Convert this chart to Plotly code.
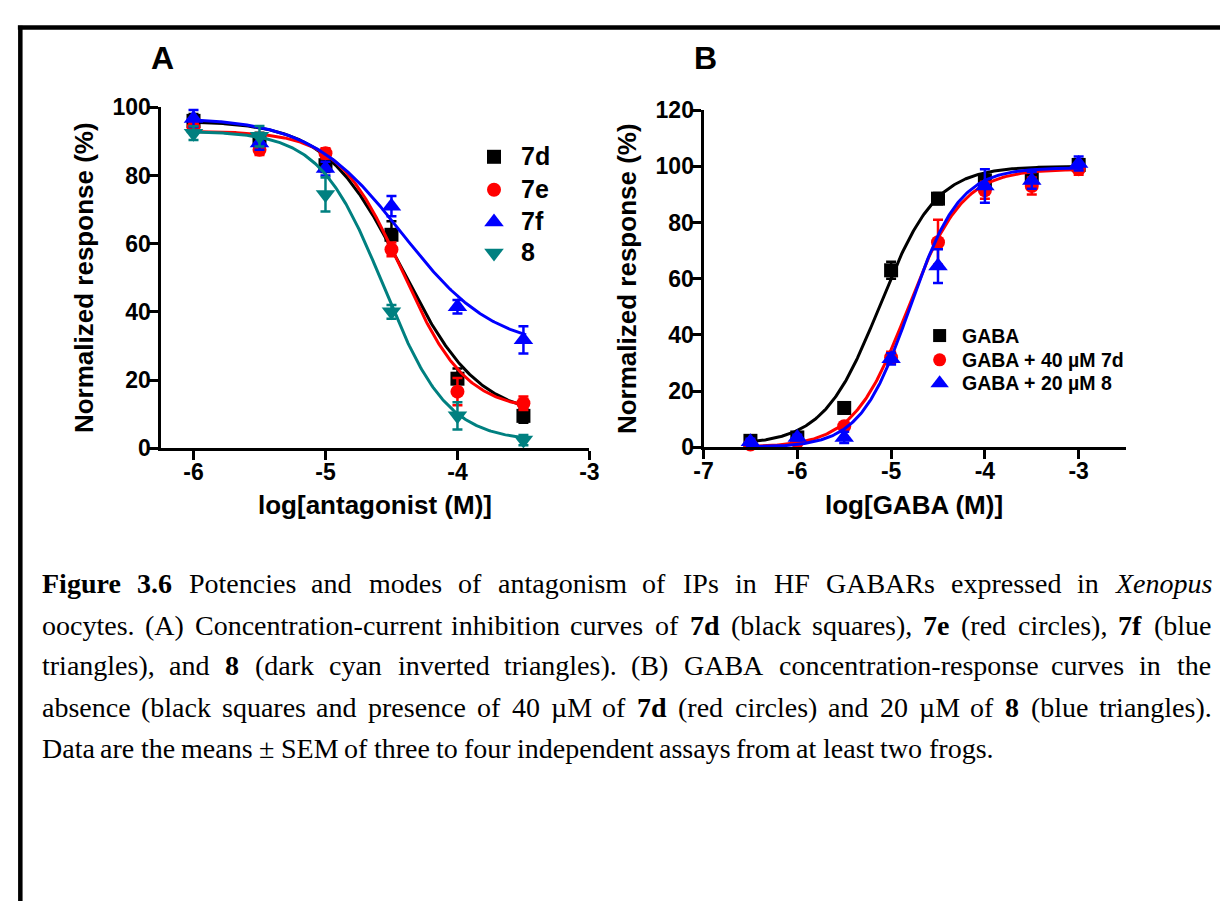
import numpy as np
import plotly.graph_objects as go

W, H = 1230, 914

# ---------------- Panel A: antagonist inhibition ----------------
log_antagonist = [-6.0, -5.5, -5.0, -4.5, -4.0, -3.5]
resp_7d = [96.0, 90.5, 83.0, 62.6, 20.4, 9.5]
resp_7e = [94.0, 87.5, 86.5, 58.3, 16.6, 13.2]
resp_7f = [96.7, 89.5, 82.0, 71.0, 41.5, 31.8]
resp_8 = [92.4, 91.5, 74.4, 40.0, 9.5, 2.4]
sem_7d = [2.0, 2.0, 2.0, 4.0, 3.0, 2.0]
sem_7e = [1.5, 1.5, 1.5, 2.0, 4.0, 2.0]
sem_7f = [2.5, 2.0, 2.0, 3.0, 2.0, 4.0]
sem_8 = [2.0, 3.0, 5.0, 2.0, 4.0, 1.5]

# Hill fits for inhibition: (top, bottom, logIC50, hill slope)
fit_7d = (96.0, 9.0, -4.42, 1.5)
fit_7e = (93.0, 11.0, -4.42, 1.8)
fit_7f = (97.0, 29.0, -4.42, 1.25)
fit_8 = (93.0, 2.0, -4.56, 1.8)

# ---------------- Panel B: GABA concentration-response ----------------
log_gaba = [-6.5, -6.0, -5.5, -5.0, -4.5, -4.0, -3.5, -3.0]
resp_gaba = [2.3, 3.5, 14.0, 63.0, 88.5, 95.0, 96.0, 100.5]
resp_gaba_7d = [1.0, 2.0, 7.5, 32.0, 73.0, 91.5, 93.0, 99.0]
resp_gaba_8 = [2.0, 3.5, 3.5, 31.5, 64.5, 93.0, 95.0, 101.0]
sem_gaba = [1.0, 1.0, 2.0, 3.0, 2.0, 2.0, 2.0, 1.5]
sem_gaba_7d = [0.5, 0.5, 1.0, 2.0, 8.0, 3.0, 3.0, 2.0]
sem_gaba_8 = [1.0, 1.0, 2.0, 2.0, 6.0, 6.0, 3.0, 2.5]

# Hill fits for activation: (top, bottom, logEC50, hill slope)
fit_gaba = (100.0, 1.0, -5.12, 1.45)
fit_gaba_7d = (99.0, 0.0, -4.82, 1.5)
fit_gaba_8 = (99.5, 0.0, -4.80, 1.65)

names_a = ["7d", "7e", "7f", "8"]
names_b = ["GABA", "GABA + 40 µM 7d", "GABA + 20 µM 8"]

BLACK, RED, BLUE, TEAL = "#000000", "#ff0000", "#0000ff", "#008080"
SANS = "Liberation Sans, Arial, sans-serif"
SERIF = "Liberation Serif, Times New Roman, serif"


def inhibition(x, p):
    top, bottom, c, h = p
    return bottom + (top - bottom) / (1.0 + 10.0 ** ((x - c) * h))


def activation(x, p):
    top, bottom, c, h = p
    return bottom + (top - bottom) / (1.0 + 10.0 ** ((c - x) * h))


def px(x):
    """Pixel from left -> paper x."""
    return x / W


def py(y):
    """Pixel from top -> paper y."""
    return 1.0 - y / H


fig = go.Figure()

series_a = [
    (resp_7d, sem_7d, fit_7d, BLACK, "square", 14),
    (resp_7e, sem_7e, fit_7e, RED, "circle", 14),
    (resp_7f, sem_7f, fit_7f, BLUE, "triangle-up", 17),
    (resp_8, sem_8, fit_8, TEAL, "triangle-down", 17),
]
xa = np.linspace(-6.05, -3.48, 300)
for resp, sem, fit, col, sym, size in series_a:
    fig.add_trace(go.Scatter(
        x=log_antagonist, y=resp, mode="markers", xaxis="x", yaxis="y",
        marker=dict(symbol=sym, size=size, color=col),
        error_y=dict(type="data", array=sem, color=col, thickness=2.5, width=5),
        cliponaxis=False, showlegend=False))
    fig.add_trace(go.Scatter(
        x=xa, y=inhibition(xa, fit), mode="lines", xaxis="x", yaxis="y",
        line=dict(color=col, width=3), cliponaxis=False, showlegend=False))

series_b = [
    (resp_gaba, sem_gaba, fit_gaba, BLACK, "square", 14),
    (resp_gaba_7d, sem_gaba_7d, fit_gaba_7d, RED, "circle", 14),
    (resp_gaba_8, sem_gaba_8, fit_gaba_8, BLUE, "triangle-up", 17),
]
xb = np.linspace(-6.55, -2.95, 300)
for resp, sem, fit, col, sym, size in series_b:
    fig.add_trace(go.Scatter(
        x=log_gaba, y=resp, mode="markers", xaxis="x2", yaxis="y2",
        marker=dict(symbol=sym, size=size, color=col),
        error_y=dict(type="data", array=sem, color=col, thickness=2.5, width=5),
        cliponaxis=False, showlegend=False))
    fig.add_trace(go.Scatter(
        x=xb, y=activation(xb, fit), mode="lines", xaxis="x2", yaxis="y2",
        line=dict(color=col, width=3), cliponaxis=False, showlegend=False))

# ---------------- hand-drawn legends on a full-page pixel overlay ----------------
annotations = []
leg_a_rows = [148, 182, 215, 247]
for (resp, sem, fit, col, sym, size), name, ry in zip(series_a, names_a, leg_a_rows):
    fig.add_trace(go.Scatter(
        x=[492], y=[ry], mode="markers", xaxis="x3", yaxis="y3",
        marker=dict(symbol=sym, size=size, color=col), showlegend=False,
        cliponaxis=False, hoverinfo="skip"))
    annotations.append(dict(x=px(517), y=py(ry - 1), xref="paper", yref="paper",
                            text=f"<b>{name}</b>", showarrow=False,
                            xanchor="left", yanchor="middle",
                            font=dict(family=SANS, size=25, color="black")))

leg_b_rows = [332, 357, 381]
for (resp, sem, fit, col, sym, size), name, ry in zip(series_b, names_b, leg_b_rows):
    fig.add_trace(go.Scatter(
        x=[945], y=[ry], mode="markers", xaxis="x3", yaxis="y3",
        marker=dict(symbol=sym, size=size - 1, color=col), showlegend=False,
        cliponaxis=False, hoverinfo="skip"))
    annotations.append(dict(x=px(966), y=py(ry), xref="paper", yref="paper",
                            text=f"<b>{name}</b>", showarrow=False,
                            xanchor="left", yanchor="middle",
                            font=dict(family=SANS, size=19.5, color="black")))

# ---------------- axis titles and panel letters ----------------
title_font = dict(family=SANS, size=26, color="black", weight="bold")
annotations += [
    dict(x=px(75), y=py(272), text="Normalized response (%)", textangle=-90),
    dict(x=px(627), y=py(273), text="Normalized response (%)", textangle=-90),
    dict(x=px(371), y=py(506), text="log[antagonist (M)]"),
    dict(x=px(919), y=py(506), text="log[GABA (M)]"),
]
for a in annotations[-4:]:
    a.update(xref="paper", yref="paper", showarrow=False,
             xanchor="center", yanchor="middle", font=title_font)
for letter, lx in (("A", 155), ("B", 707)):
    annotations.append(dict(x=px(lx), y=py(46), xref="paper", yref="paper",
                            text=f"<b>{letter}</b>", showarrow=False,
                            xanchor="center", yanchor="middle",
                            font=dict(family=SANS, size=32, color="black")))

# ---------------- justified caption ----------------
TNR = {" ": 250, "(": 333, ")": 333, ",": 250, "-": 333, ".": 250, ":": 278,
       "±": 549, "µ": 500,
       "A": 722, "B": 667, "C": 667, "D": 722, "E": 611, "F": 556, "G": 722,
       "H": 722, "I": 333, "M": 889, "P": 556, "R": 667, "S": 556, "X": 722,
       "a": 444, "b": 500, "c": 444, "d": 500, "e": 444, "f": 333, "g": 500,
       "h": 500, "i": 278, "k": 500, "l": 278, "m": 778, "n": 500, "o": 500,
       "p": 500, "q": 500, "r": 333, "s": 389, "t": 278, "u": 500, "v": 500,
       "w": 722, "x": 500, "y": 500, "z": 444}
TNR_BOLD = {"F": 611, "i": 278, "g": 500, "u": 556, "r": 444, "e": 444,
            ".": 250, "d": 556, "f": 333}
TNR_ITAL = {"X": 611, "e": 444, "n": 500, "o": 500, "p": 500, "u": 500, "s": 389}

caption_lines = [
    "**Figure** **3.6** Potencies and modes of antagonism of IPs in HF GABARs expressed in *Xenopus*",
    "oocytes. (A) Concentration-current inhibition curves of **7d** (black squares), **7e** (red circles), **7f** (blue",
    "triangles), and **8** (dark cyan inverted triangles). (B) GABA concentration-response curves in the",
    "absence (black squares and presence of 40 µM of **7d** (red circles) and 20 µM of **8** (blue triangles).",
    "Data are the means ± SEM of three to four independent assays from at least two frogs.",
]
CAP_SIZE = 28
CAP_LEFT, CAP_RIGHT = 31, 1219
cap_rows = [587, 630, 672, 715, 757]


def word_info(tok):
    if tok.startswith("**"):
        w = tok.strip("*")
        return f"<b>{w}</b>", sum(TNR_BOLD.get(c, 500) for c in w)
    if tok.startswith("*"):
        w = tok.strip("*")
        return f"<i>{w}</i>", sum(TNR_ITAL.get(c, 500) for c in w)
    return tok, sum(TNR.get(c, 500) for c in tok)


for i, (line, cy) in enumerate(zip(caption_lines, cap_rows)):
    words = [word_info(t) for t in line.split(" ")]
    widths = [w * CAP_SIZE / 1000.0 for _, w in words]
    last = i == len(caption_lines) - 1
    if last:
        gap = 250 * CAP_SIZE / 1000.0
    else:
        gap = (CAP_RIGHT - CAP_LEFT - sum(widths)) / (len(words) - 1)
    x = CAP_LEFT
    for (txt, _), wpx in zip(words, widths):
        annotations.append(dict(x=px(x - 1), y=py(cy), xref="paper", yref="paper",
                                text=txt, showarrow=False, xanchor="left",
                                yanchor="middle",
                                font=dict(family=SERIF, size=CAP_SIZE, color="black")))
        x += wpx + gap

# ---------------- frame ----------------
shapes = [
    dict(type="line", xref="paper", yref="paper", x0=px(8), x1=px(W), y0=py(15), y1=py(15),
         line=dict(color="black", width=4.5)),
    dict(type="line", xref="paper", yref="paper", x0=px(10.5), x1=px(10.5), y0=py(13),
         y1=py(H), line=dict(color="black", width=4.5)),
]

tick_font = dict(family=SANS, size=23, color="black", weight="bold")
axis_common = dict(showline=True, linecolor="black", linewidth=3, ticks="outside",
                   ticklen=9, tickwidth=3, tickcolor="black", showgrid=False,
                   zeroline=False, tickfont=tick_font, fixedrange=True)

fig.update_layout(
    width=W, height=H, autosize=False,
    margin=dict(l=0, r=0, t=0, b=0, pad=0),
    paper_bgcolor="white", plot_bgcolor="rgba(0,0,0,0)",
    showlegend=False,
    xaxis=dict(domain=[px(153), px(589)], range=[-6.25, -3.0], anchor="y",
               tickvals=[-6, -5, -4, -3], ticktext=["-6", "-5", "-4", "-3"],
               ticklabelstandoff=-8, **axis_common),
    yaxis=dict(domain=[py(448), py(97)], range=[0, 100], anchor="x",
               tickvals=[0, 20, 40, 60, 80, 100], ticklabelstandoff=-7, **axis_common),
    xaxis2=dict(domain=[px(705), px(1134)], range=[-7, -2.5], anchor="y2",
                tickvals=[-7, -6, -5, -4, -3], ticktext=["-7", "-6", "-5", "-4", "-3"],
                ticklabelstandoff=-8, **axis_common),
    yaxis2=dict(domain=[py(447), py(100)], range=[0, 120], anchor="x2",
                tickvals=[0, 20, 40, 60, 80, 100, 120], ticklabelstandoff=-7, **axis_common),
    xaxis3=dict(domain=[0, 1], range=[0, W], anchor="y3", visible=False, fixedrange=True),
    yaxis3=dict(domain=[0, 1], range=[H, 0], anchor="x3", visible=False, fixedrange=True),
    annotations=annotations,
    shapes=shapes,
)

fig.write_html("out.html")
